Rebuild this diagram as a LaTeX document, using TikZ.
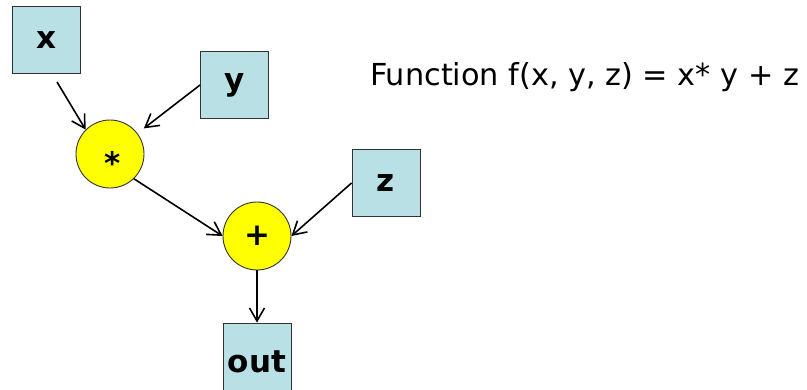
\documentclass[tikz,border=0pt]{standalone}
\usepackage{fontspec}
\setmainfont{DejaVu Sans}
\usetikzlibrary{arrows.meta}
\definecolor{varfill}{RGB}{185,224,228}
\definecolor{opfill}{RGB}{255,255,0}
\begin{document}
\begin{tikzpicture}[x=1pt,y=-1pt,
  varbox/.style={draw=black!80,line width=0.9pt,fill=varfill,
    minimum width=68pt,minimum height=67pt,inner sep=0pt,
    font=\fontsize{31}{31}\selectfont\bfseries},
  opnode/.style={circle,draw=black!80,line width=0.9pt,fill=opfill,
    minimum size=68pt,inner sep=0pt,
    font=\fontsize{31}{31}\selectfont\bfseries},
  flow/.style={line width=1.6pt,-{Straight Barb[length=13pt,width=15pt,line width=1.6pt]}}]
\useasboundingbox (0,0) rectangle (807,389);

% input and output variables
\node[varbox] (x) at (46,40) {x};
\node[varbox] (y) at (234.5,85) {y};
\node[varbox] (z) at (386,183) {z};
\node[varbox,minimum height=70pt] (out) at (257,358) {};
\node[anchor=base,font=\fontsize{31}{31}\selectfont\bfseries] (outlbl) at (257,372) {out};

% operations
\node[opnode] (mul) at (110,154) {};
\node[font=\fontsize{31}{31}\selectfont\bfseries] (mullbl) at (113,163) {*};
\node[opnode] (add) at (257,236) {+};

% edges of the graph
\coordinate (xs) at ([shift={(11,8)}]x.south);
\draw[flow] (xs) -- (mul.135);
\draw[flow,shorten >=8pt] (y.west) -- (mul.37);
\draw[flow] (mul.-46) -- (add.west);
\draw[flow] (z.west) -- (add.east);
\draw[flow] (add.south) -- (out.north);

% formula
\node[anchor=base west,inner sep=0pt,font=\fontsize{30.3}{30.3}\selectfont] (fn) at (370,85)
  {Function f(x, y, z) = x* y + z};
\end{tikzpicture}
\end{document}
